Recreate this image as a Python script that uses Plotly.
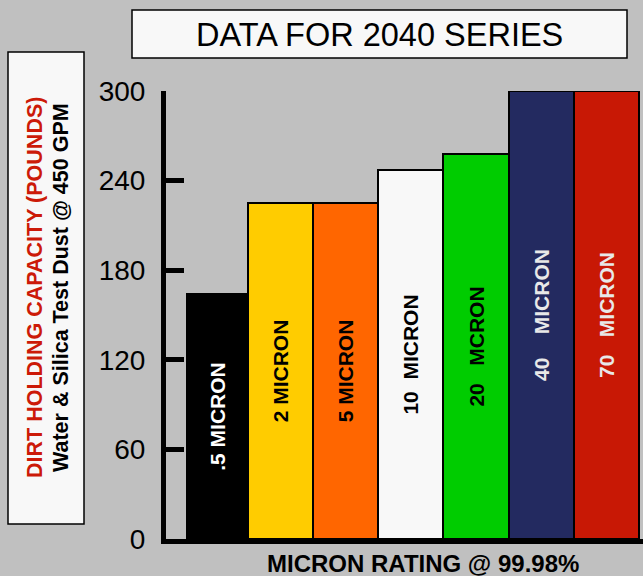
import plotly.graph_objects as go

categories = [".5", "2", "5", "10", "20", "40", "70"]
capacity = [164, 225, 225, 247, 258, 300, 300]
bar_labels = [
    ".5 MICRON",
    "2 MICRON",
    "5 MICRON",
    "10\u00a0\u00a0MICRON",
    "20\u00a0\u00a0\u00a0MCRON",
    "40\u00a0\u00a0\u00a0\u00a0MICRON",
    "70\u00a0\u00a0\u00a0MICRON",
]
bar_colors = ["#000000", "#ffcc00", "#ff6600", "#f8f8f8", "#00cc00", "#232a60", "#c81805"]
label_colors = ["#ffffff", "#000000", "#000000", "#000000", "#000000", "#e8e8e8", "#e8e8e8"]
y_ticks = [0, 60, 120, 180, 240, 300]

title_text = "DATA FOR 2040 SERIES"
y_title_1 = "DIRT HOLDING CAPACITY (POUNDS)"
y_title_2 = "Water & Silica Test Dust @ 450 GPM"
x_title = "MICRON RATING @ 99.98%"

W, H = 643, 576
L, R, T, B = 166, 0, 91, 37
PW, PH = W - L - R, H - T - B

def px(x):
    return (x - L) / PW

def py(y):
    return (H - B - y) / PH

FONT = "Arial, Liberation Sans, sans-serif"

# first bar is a little narrower, starting away from the axis line
bar_widths = [0.934, 1, 1, 1, 1, 1, 1]
bar_offsets = [-0.434, -0.5, -0.5, -0.5, -0.5, -0.5, -0.5]

fig = go.Figure()
fig.add_trace(go.Bar(
    x=categories,
    y=capacity,
    width=bar_widths,
    offset=bar_offsets,
    marker=dict(color=bar_colors, line=dict(color="#000000", width=2)),
    text=bar_labels,
    textposition="inside",
    insidetextanchor="middle",
    textangle=-90,
    textfont=dict(family=FONT, size=21, color=label_colors, weight="bold"),
    hoverinfo="skip",
))

fig.update_layout(
    width=W, height=H,
    margin=dict(l=L, r=R, t=T, b=B, pad=0),
    paper_bgcolor="#c0c0c0",
    plot_bgcolor="#c0c0c0",
    bargap=0,
    showlegend=False,
    font=dict(family=FONT, color="#000000"),
    xaxis=dict(
        range=[-0.756, 6.56],
        showticklabels=False,
        ticks="",
        showgrid=False,
        zeroline=False,
        showline=True,
        linecolor="#000000",
        linewidth=5,
        fixedrange=True,
    ),
    yaxis=dict(
        range=[0, 300],
        tickvals=y_ticks,
        ticks="inside",
        ticklen=18,
        tickwidth=5,
        tickcolor="#000000",
        tickfont=dict(size=28, family=FONT, color="#000000"),
        ticklabelstandoff=10,
        showgrid=False,
        zeroline=False,
        showline=True,
        linecolor="#000000",
        linewidth=5,
        layer="above traces",
        fixedrange=True,
    ),
    shapes=[
        dict(type="rect", xref="paper", yref="paper",
             x0=px(132), x1=px(627), y0=py(58), y1=py(10),
             fillcolor="#f8f8f8", line=dict(color="#000000", width=1.5), layer="below"),
        dict(type="rect", xref="paper", yref="paper",
             x0=px(8), x1=px(84), y0=py(524), y1=py(52),
             fillcolor="#f8f8f8", line=dict(color="#000000", width=1.5), layer="below"),
    ],
    annotations=[
        dict(text=title_text, xref="paper", yref="paper", x=px(379), y=py(35),
             xanchor="center", yanchor="middle", showarrow=False,
             font=dict(size=32.5, family=FONT, color="#000000")),
        dict(text="<b>" + y_title_1 + "</b>", xref="paper", yref="paper", x=px(35), y=py(288),
             xanchor="center", yanchor="middle", showarrow=False, textangle=-90,
             font=dict(size=21.5, family=FONT, color="#cc1a08")),
        dict(text="<b>" + y_title_2 + "</b>", xref="paper", yref="paper", x=px(61), y=py(288),
             xanchor="center", yanchor="middle", showarrow=False, textangle=-90,
             font=dict(size=21.5, family=FONT, color="#000000")),
        dict(text="<b>" + x_title + "</b>", xref="paper", yref="paper", x=px(423), y=py(563),
             xanchor="center", yanchor="middle", showarrow=False,
             font=dict(size=24, family=FONT, color="#000000")),
    ],
)

fig.write_html(
    "out.html",
    config={"displayModeBar": False},
    post_script="document.body.style.margin='0';document.body.style.overflow='hidden';",
)
